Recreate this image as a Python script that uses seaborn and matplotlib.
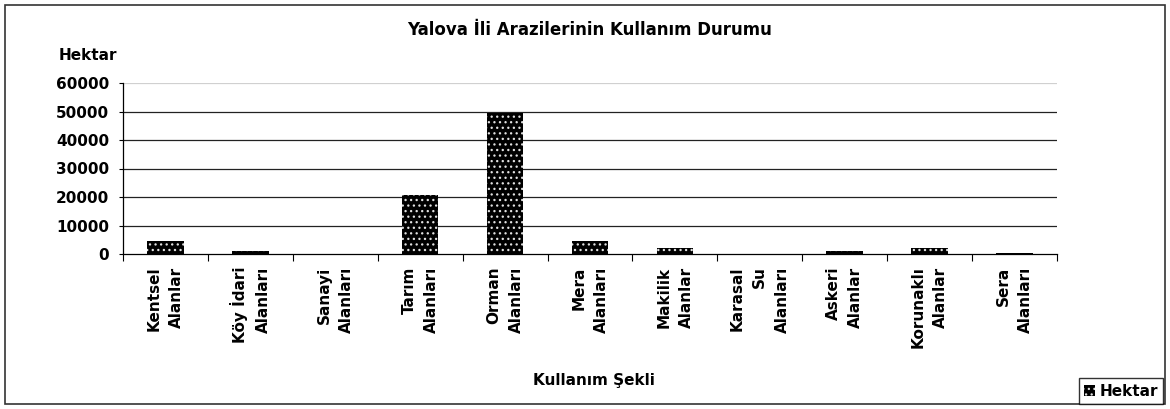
import pandas as pd
import matplotlib.pyplot as plt
import seaborn as sns
from matplotlib.patches import Rectangle, Patch

categories = ["Kentsel\nAlanlar", "Köy İdari\nAlanları", "Sanayi\nAlanları", "Tarım\nAlanları",
              "Orman\nAlanları", "Mera\nAlanları", "Makilik\nAlanlar", "Karasal\nSu\nAlanları",
              "Askeri\nAlanlar", "Korunaklı\nAlanlar", "Sera\nAlanları"]
hektar = [4600, 1000, 50, 20800, 49300, 4600, 2000, 40, 1000, 2000, 500]
yticks = [0, 10000, 20000, 30000, 40000, 50000, 60000]

sns.set_theme(style="white")
plt.rcParams["font.family"] = ["DejaVu Sans"]
plt.rcParams["font.weight"] = "bold"
plt.rcParams["text.color"] = "black"
plt.rcParams["xtick.color"] = "black"
plt.rcParams["ytick.color"] = "black"
plt.rcParams["hatch.color"] = "#e0e0e0"
plt.rcParams["hatch.linewidth"] = 0.9

FS = 11

df = pd.DataFrame({"Kullanım": categories, "Hektar": hektar})

fig = plt.figure(figsize=(11.7, 4.09), dpi=100)
ax = fig.add_axes([123 / 1170, 1 - 254 / 409, (1057 - 123) / 1170, (254 - 83) / 409])
sns.barplot(data=df, x="Kullanım", y="Hektar", color="black", width=0.43, ax=ax, saturation=1)
for p in ax.patches:
    p.set_facecolor("black")
    p.set_edgecolor("#e0e0e0")
    p.set_hatch("...")
    p.set_linewidth(0)

ax.set_ylim(0, 60000)
ax.set_xlim(-0.5, len(categories) - 0.5)
ax.set_yticks(yticks)
ax.set_yticklabels([str(v) for v in yticks], fontsize=FS, fontweight="bold", color="black")
ax.set_xticks(range(len(categories)))
ax.set_xticklabels(categories, rotation=90, fontsize=FS, fontweight="bold", color="black",
                   va="top", ha="center", multialignment="right", linespacing=1.6)
ax.set_xticks([i - 0.5 for i in range(len(categories) + 1)], minor=True)
ax.tick_params(axis="x", which="major", length=0, pad=9)
ax.tick_params(axis="x", which="minor", length=5, width=0.8, color="black", direction="out", bottom=True)
ax.tick_params(axis="y", length=3, width=0.8, color="black", direction="out", left=True, pad=7)
for y in yticks[1:]:
    ax.axhline(y, color="#d0d0d0" if y == 60000 else "#222222", lw=0.9, zorder=0)
ax.grid(False)
for s in ["top", "right"]:
    ax.spines[s].set_visible(False)
for s in ["left", "bottom"]:
    ax.spines[s].set_color("black")
    ax.spines[s].set_linewidth(0.9)
ax.set_xlabel("")
ax.set_ylabel("")

fig.text(590 / 1170, 1 - 30 / 409, "Yalova İli Arazilerinin Kullanım Durumu", ha="center", va="center",
         fontsize=12, fontweight="bold", color="black")
fig.text(59 / 1170, 1 - 55 / 409, "Hektar", ha="left", va="center", fontsize=FS, fontweight="bold",
         color="black")
fig.text(594 / 1170, 1 - 380 / 409, "Kullanım Şekli", ha="center", va="center", fontsize=FS,
         fontweight="bold", color="black")

fig.patches.append(Rectangle((5 / 1170, 5 / 409), 1 - 10 / 1170, 1 - 10 / 409, transform=fig.transFigure,
                             fill=False, edgecolor="#333333", lw=1.2))
handle = Patch(facecolor="black", edgecolor="#e0e0e0", hatch="...", lw=0)
leg = fig.legend([handle], ["Hektar"], loc="lower right", bbox_to_anchor=(1163 / 1170, 5 / 409),
                 frameon=True, fancybox=False, handlelength=0.7, handleheight=0.7,
                 handletextpad=0.3, borderpad=0.35, borderaxespad=0,
                 prop={"weight": "bold", "size": FS})
leg.get_frame().set_edgecolor("black")
leg.get_frame().set_linewidth(1.0)
for t in leg.get_texts():
    t.set_color("black")

fig.savefig("out.png", dpi=100)
